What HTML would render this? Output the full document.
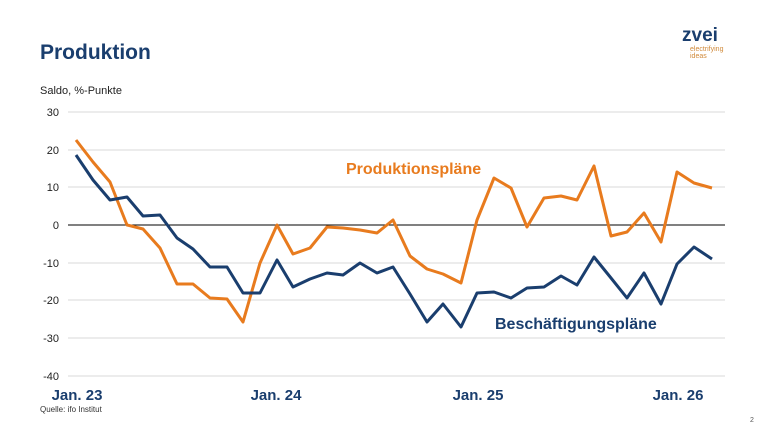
<!DOCTYPE html>
<html><head><meta charset="utf-8"><style>
body{margin:0;width:768px;height:432px;background:#fff;overflow:hidden;font-family:"Liberation Sans",sans-serif}
</style></head><body>
<svg width="768" height="432" xmlns="http://www.w3.org/2000/svg" font-family="Liberation Sans, sans-serif">
<text x="40" y="59" font-size="21" font-weight="bold" fill="#1a3e6e">Produktion</text>
<text x="40" y="94" font-size="11" fill="#222">Saldo, %-Punkte</text>
<text x="682" y="41" font-size="19" font-weight="bold" fill="#1a3e6e">zvei</text>
<text x="690" y="51" font-size="7" fill="#d08a3a">electrifying</text>
<text x="690" y="58" font-size="7" fill="#d08a3a">ideas</text>
<g stroke="#d9d9d9" stroke-width="1">
<line x1="68" x2="725" y1="112" y2="112"/><line x1="68" x2="725" y1="150" y2="150"/><line x1="68" x2="725" y1="187" y2="187"/>
<line x1="68" x2="725" y1="263" y2="263"/><line x1="68" x2="725" y1="300" y2="300"/><line x1="68" x2="725" y1="338" y2="338"/><line x1="68" x2="725" y1="376" y2="376"/>
</g>
<line x1="68" x2="725" y1="225" y2="225" stroke="#000" stroke-width="1"/>
<g font-size="11" fill="#222" text-anchor="end">
<text x="59" y="116">30</text><text x="59" y="154">20</text><text x="59" y="191">10</text><text x="59" y="229">0</text>
<text x="59" y="267">-10</text><text x="59" y="304">-20</text><text x="59" y="342">-30</text><text x="59" y="380">-40</text>
</g>
<g font-size="15" font-weight="bold" fill="#1a3e6e" text-anchor="middle">
<text x="77" y="400">Jan. 23</text><text x="276" y="400">Jan. 24</text><text x="478" y="400">Jan. 25</text><text x="678" y="400">Jan. 26</text>
</g>
<text x="40" y="412" font-size="8" fill="#333">Quelle: ifo Institut</text>
<text x="750" y="422" font-size="7" fill="#555">2</text>
<polyline fill="none" stroke="#e87b1e" stroke-width="3" stroke-linejoin="round" points="76,140 93,162 110,182 127,225 143,229 160,248 177,284 193,284 210,298 227,299 243,322 260,263 277,225 293,254 310,248 327,227 343,228 360,230 377,233 393,220 410,256 427,269 443,274 461,283 477,220 494,178 511,188 527,227 544,198 561,196 577,200 594,166 611,236 627,232 644,213 661,242 677,172 694,183 712,188"/>
<polyline fill="none" stroke="#1a3e6e" stroke-width="3" stroke-linejoin="round" points="76,155 93,180 110,200 127,197 143,216 160,215 177,238 193,249 210,267 227,267 243,293 260,293 277,260 293,287 310,279 327,273 343,275 360,263 377,273 393,267 410,294 427,322 443,304 461,327 477,293 494,292 511,298 527,288 544,287 561,276 577,285 594,257 611,278 627,298 644,273 661,304 677,264 694,247 712,259"/>
<text x="346" y="174" font-size="16" font-weight="bold" fill="#e87b1e">Produktionspläne</text>
<text x="495" y="329" font-size="16" font-weight="bold" fill="#1a3e6e">Beschäftigungspläne</text>
</svg>
</body></html>
